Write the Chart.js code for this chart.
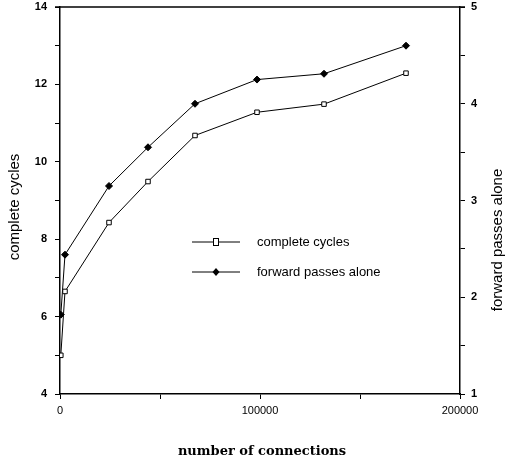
<!DOCTYPE html>
<html><head><meta charset="utf-8">
<script src="https://cdn.jsdelivr.net/npm/chart.js@4.4.0/dist/chart.umd.min.js"></script>
<style>html,body{margin:0;padding:0;background:#fff}</style>
</head><body>
<canvas id="c" width="518" height="463" style="width:518px;height:463px;display:block"></canvas>
<script>
// ---- data ----
const connections    = [400, 2500, 24500, 44000, 67500, 98500, 132000, 173000];
const completeCycles = [5.0, 6.65, 8.43, 9.49, 10.68, 11.28, 11.49, 12.29];
const forwardPasses  = [1.82, 2.44, 3.15, 3.55, 4.0, 4.25, 4.31, 4.6];
const xTickLabels    = [0, 100000, 200000];
const leftTickLabels = [4, 6, 8, 10, 12, 14];
const rightTickLabels= [1, 2, 3, 4, 5];
const seriesNames    = ['complete cycles', 'forward passes alone'];
const axisTitles     = {x: 'number of connections', left: 'complete cycles', right: 'forward passes alone'};

const tickFont = {family: 'Liberation Sans, Arial, sans-serif', size: 11, weight: 'bold'};

const extras = {
  id: 'extras',
  afterDraw(chart) {
    const ctx = chart.ctx, a = chart.chartArea;
    ctx.save();
    ctx.strokeStyle = '#000'; ctx.lineWidth = 1.5;
    ctx.beginPath(); ctx.moveTo(a.left - 5, a.top); ctx.lineTo(a.right + 5, a.top); ctx.stroke();
    ctx.fillStyle = '#000';
    ctx.font = '15px "Liberation Sans", Arial, sans-serif';
    ctx.textAlign = 'center'; ctx.textBaseline = 'middle';
    ctx.save(); ctx.translate(15, 207); ctx.rotate(-Math.PI / 2); ctx.fillText(axisTitles.left, 0, 0); ctx.restore();
    ctx.save(); ctx.translate(498, 240); ctx.rotate(-Math.PI / 2); ctx.fillText(axisTitles.right, 0, 0); ctx.restore();
    ctx.font = 'bold 13px "DejaVu Serif", serif';
    ctx.fillText(axisTitles.x, 262, 452);
    const items = chart.data.datasets;
    const ys = [242, 272];
    ctx.font = '13px "Liberation Sans", Arial, sans-serif';
    ctx.textAlign = 'left';
    items.forEach((ds, i) => {
      const y = ys[i];
      ctx.strokeStyle = '#000'; ctx.lineWidth = 1;
      ctx.beginPath(); ctx.moveTo(192, y); ctx.lineTo(240, y); ctx.stroke();
      if (i === 0) {
        ctx.fillStyle = '#fff'; ctx.fillRect(213, y - 4, 6, 8);
        ctx.strokeRect(213.5, y - 3.5, 5, 7);
      } else {
        ctx.fillStyle = '#000';
        ctx.beginPath(); ctx.moveTo(216, y - 4); ctx.lineTo(219.5, y); ctx.lineTo(216, y + 4); ctx.lineTo(212.5, y); ctx.closePath(); ctx.fill();
      }
      ctx.fillStyle = '#000';
      ctx.fillText(ds.label, 257, y);
    });
    ctx.restore();
  }
};

const fitY = w => s => { s.width = w; s.paddingTop = 0; s.paddingBottom = 0; };

new Chart(document.getElementById('c'), {
  type: 'scatter',
  data: {
    datasets: [
      {
        label: seriesNames[0], yAxisID: 'y',
        data: connections.map((x, i) => ({x, y: completeCycles[i]})),
        showLine: true, borderColor: '#000', borderWidth: 1,
        pointStyle: 'rect', pointRadius: 3.2, pointBackgroundColor: '#fff', pointBorderColor: '#000', pointBorderWidth: 1
      },
      {
        label: seriesNames[1], yAxisID: 'y2',
        data: connections.map((x, i) => ({x, y: forwardPasses[i]})),
        showLine: true, borderColor: '#000', borderWidth: 1,
        pointStyle: 'rectRot', pointRadius: 3.5, pointBackgroundColor: '#000', pointBorderColor: '#000', pointBorderWidth: 1
      }
    ]
  },
  options: {
    responsive: false, animation: false,
    layout: {padding: {top: 7, left: 0, right: 0, bottom: 0}},
    plugins: {legend: {display: false}, tooltip: {enabled: false}},
    scales: {
      x: {
        type: 'linear', min: 0, max: 200000,
        afterBuildTicks: s => { s.ticks = [0, 50000, 100000, 150000, 200000].map(v => ({value: v})); },
        afterFit: s => { s.height = 69; s.paddingLeft = 0; s.paddingRight = 0; },
        ticks: {font: {family: 'Liberation Sans Narrow, Liberation Sans, sans-serif', size: 11}, color: '#000', padding: 5, maxRotation: 0,
                callback: v => xTickLabels.includes(v) ? String(v) : ''},
        grid: {drawOnChartArea: false, drawTicks: true, tickLength: 5, color: '#000', lineWidth: 1},
        border: {color: '#000', width: 1.5}
      },
      y: {
        type: 'linear', position: 'left', min: 4, max: 14,
        afterBuildTicks: s => { const t = []; for (let v = 4; v <= 14; v++) t.push({value: v}); s.ticks = t; },
        afterFit: fitY(60),
        ticks: {font: tickFont, color: '#000', padding: 8, callback: v => leftTickLabels.includes(v) ? String(v) : ''},
        grid: {drawOnChartArea: false, drawTicks: true, tickLength: 5, color: '#000', lineWidth: 1},
        border: {color: '#000', width: 1.5}
      },
      y2: {
        type: 'linear', position: 'right', min: 1, max: 5,
        afterBuildTicks: s => { const t = []; for (let v = 1; v <= 5.001; v += 0.5) t.push({value: Math.round(v * 2) / 2}); s.ticks = t; },
        afterFit: fitY(58),
        ticks: {font: tickFont, color: '#000', padding: 6, callback: v => rightTickLabels.includes(v) ? String(v) : ''},
        grid: {drawOnChartArea: false, drawTicks: true, tickLength: 5, color: '#000', lineWidth: 1},
        border: {color: '#000', width: 1.5}
      }
    }
  },
  plugins: [extras]
});
</script>
</body></html>
